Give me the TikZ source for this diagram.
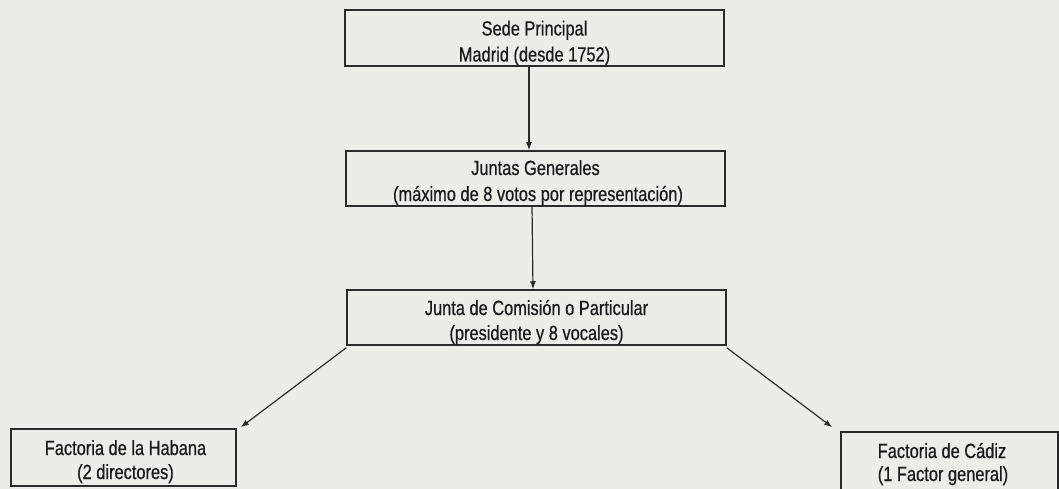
\documentclass[tikz,border=0pt]{standalone}
\usepackage{fontspec}
\setmainfont{Liberation Sans}[FakeStretch=0.8,FakeBold=0.6]
\usetikzlibrary{arrows.meta}
\definecolor{bgcol}{HTML}{EDEDE7}
\definecolor{inkcol}{HTML}{2A2A2A}
\definecolor{txtcol}{HTML}{1A1A1A}
\tikzset{
  orgbox/.style={draw=inkcol, line width=1.5pt, fill=bgcol, rectangle, inner sep=0pt},
  lbl/.style={anchor=base, inner sep=0pt, text=txtcol, font=\fontsize{20.5}{24}\selectfont},
  conn/.style={draw=inkcol, line width=1.2pt, -{Latex[length=8pt,width=6pt]}}
}
\begin{document}
\begin{tikzpicture}[x=1pt,y=-1pt]
\fill[bgcol] (0,0) rectangle (1059,489);
\useasboundingbox (0,0) rectangle (1059,489);
% boxes
\node[orgbox, minimum width=379pt, minimum height=56pt] (sede) at (534.5,38) {};
\node[orgbox, minimum width=379pt, minimum height=55pt] (jg) at (535.5,178.5) {};
\node[orgbox, minimum width=379pt, minimum height=55pt] (jc) at (536.5,317.5) {};
\node[orgbox, minimum width=225pt, minimum height=57pt] (hab) at (123.5,457.5) {};
\node[orgbox, minimum width=217pt, minimum height=58pt] (cad) at (949.5,461) {};
% texts
\node[lbl] (sede1) at (534.5,35.5) {Sede Principal};
\node[lbl] (sede2) at (534.5,61.5) {Madrid (desde 1752)};
\node[lbl] (jg1) at (535.5,175) {Juntas Generales};
\node[lbl] (jg2) at (538,201) {(máximo de 8 votos por representación)};
\node[lbl] (jc1) at (536.5,315) {Junta de Comisión o Particular};
\node[lbl] (jc2) at (536.5,340) {(presidente y 8 vocales)};
\node[lbl] (hab1) at (125.5,455) {Factoria de la Habana};
\node[lbl] (hab2) at (125.5,479) {(2 directores)};
\node[lbl] (cad1) at (942,458) {Factoria de Cádiz};
\node[lbl] (cad2) at (943,481) {(1 Factor general)};
% connectors
\draw[conn] ([xshift=-5.5pt]sede.south) -- ([xshift=-6.5pt]jg.north);
\draw[conn] ([xshift=-3.5pt]jg.south) -- ([xshift=-3.5pt]jc.north);
\coordinate (habtip) at ([xshift=4pt,yshift=1pt]hab.north east);
\coordinate (cadtip) at ([xshift=-8pt,yshift=4pt]cad.north west);
\draw[conn] ([yshift=-2pt]jc.south west) -- (habtip);
\draw[conn] ([yshift=-2pt]jc.south east) -- (cadtip);
\end{tikzpicture}
\end{document}
